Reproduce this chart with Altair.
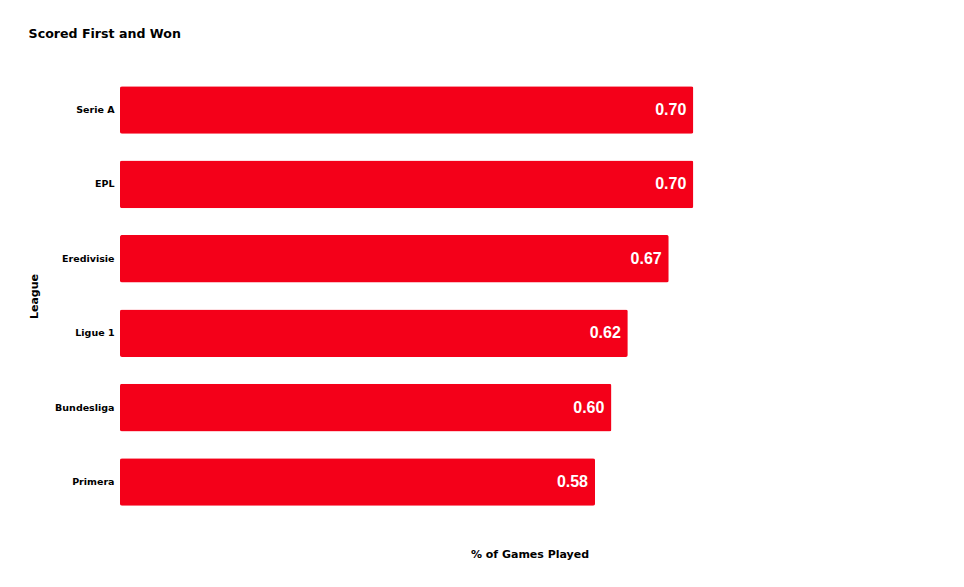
import altair as alt
import pandas as pd

leagues = ["Serie A", "EPL", "Eredivisie", "Ligue 1", "Bundesliga", "Primera"]
values = [0.70, 0.70, 0.67, 0.62, 0.60, 0.58]
labels = ["0.70", "0.70", "0.67", "0.62", "0.60", "0.58"]

df = pd.DataFrame({"League": leagues, "pct": values, "label": labels})

FONT = "DejaVu Sans"
RED = "#F40019"

y_enc = alt.Y(
    "League:N",
    sort=leagues,
    title="League",
    scale=alt.Scale(paddingInner=0.36, paddingOuter=0.19),
    axis=alt.Axis(
        ticks=False, domain=False, grid=False,
        labelFont=FONT, labelFontWeight="bold", labelFontSize=9.5, labelColor="#000",
        labelPadding=6,
        titleFont=FONT, titleFontWeight="bold", titleFontSize=11, titleColor="#000",
        titlePadding=15,
    ),
)
x_enc = alt.X(
    "pct:Q",
    scale=alt.Scale(domain=[0, 1], nice=False),
    axis=alt.Axis(
        title="% of Games Played", labels=False, ticks=False, domain=False, grid=False,
        titleFont=FONT, titleFontWeight="bold", titleFontSize=11, titleColor="#000",
        titlePadding=28,
    ),
)

bars = alt.Chart(df).mark_bar(color=RED, cornerRadius=2).encode(x=x_enc, y=y_enc)
text = alt.Chart(df).mark_text(
    align="right", baseline="middle", dx=-7, color="white",
    font="Liberation Sans", fontWeight="bold", fontSize=16,
).encode(x=alt.X("pct:Q"), y=alt.Y("League:N", sort=leagues), text="label:N")

chart = (bars + text).properties(
    width=819, height=448,
    padding={"left": 20, "top": 20, "right": 5, "bottom": 5},
    title=alt.TitleParams(
        "Scored First and Won", anchor="start", frame="bounds",
        font=FONT, fontWeight="bold", fontSize=12.6, color="#000", offset=31,
    ),
).configure_view(stroke=None)

chart.save("out.html", embed_options={"renderer": "svg", "actions": False})
